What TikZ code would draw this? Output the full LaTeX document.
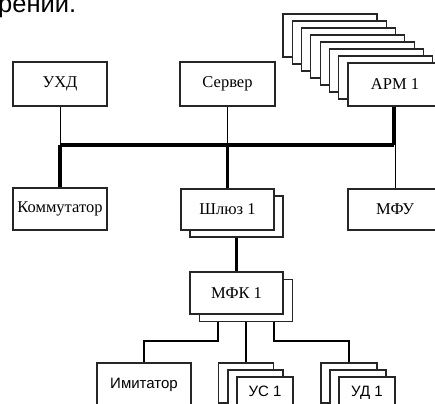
\documentclass[tikz,border=0pt]{standalone}
\usepackage{fontspec}
\setmainfont{Liberation Serif}
\newfontfamily\arialfont{Liberation Sans}
\tikzset{
  blk/.style={draw=black!85, line width=1.2pt, fill=white, inner sep=0pt,
    font=\fontsize{16.5}{18}\selectfont},
  sblk/.style={blk, font=\arialfont\fontsize{15}{17}\selectfont},
  thinln/.style={line width=0.9pt},
  midln/.style={line width=2.4pt},
  busln/.style={line width=3.2pt},
  fatln/.style={line width=4.2pt},
}
\begin{document}
\begin{tikzpicture}[x=1pt, y=-1pt]
    \useasboundingbox (0,0) rectangle (435,403);
    \clip (0,0) rectangle (435,403);

    % обрывок подписи сверху
    \node[anchor=base west, inner sep=0pt, font=\arialfont\fontsize{25.5}{28}\selectfont]
        (caption) at (-2,13) {рений.};

    % верхний ряд
    \node[blk, minimum width=94, minimum height=44] (uxd) at (60,84) {УХД};
    \node[blk, minimum width=95, minimum height=44] (server) at (227.5,84) {Сервер};
    \foreach \k in {7,...,1}
        \node[blk, minimum width=94, minimum height=43] (apm\k) at ({395-\k*9.3},{84.5-\k*7}) {};
    \node[blk, minimum width=94, minimum height=43] (apm) at (395,84.5) {АРМ 1};

    % шина
    \coordinate (busL) at (60,145);
    \coordinate (busR) at (394,145);
    \draw[busln] (busL) -- (busR);
    \draw[thinln] (uxd.south) -- (uxd.south |- busL);
    \draw[thinln] (server.south) -- (server.south |- busL);
    \draw[fatln] (apm.south -| busR) -- (busR);

    % второй ряд
    \node[blk, minimum width=94, minimum height=42] (komm) at (60,209) {Коммутатор};
    \node[blk, minimum width=93, minimum height=41] (shluzb) at (236.5,216.5) {};
    \node[blk, minimum width=93, minimum height=41] (shluz) at (227.5,209.5) {Шлюз 1};
    \node[blk, minimum width=94, minimum height=41] (mfu) at (395,209.5) {МФУ};
    \draw[fatln] (busL) -- (komm.north -| busL);
    \draw[midln] (shluz.north |- busL) -- (shluz.north);
    \draw[thinln] (mfu.north |- busR) -- (mfu.north);

    % МФК
    \node[blk, minimum width=93, minimum height=42] (mfkb) at (246,300.5) {};
    \node[blk, minimum width=93, minimum height=42] (mfk) at (236.5,293) {МФК 1};
    \draw[midln] (shluzb.south) -- (mfk.north -| shluzb.south);

    % нижний ряд
    \node[sblk, minimum width=94, minimum height=42, text height=25.5pt, text depth=16.5pt]
        (imit) at (144,384) {Имитатор};
    \foreach \k [count=\i] in {2,1} {
        \node[sblk, minimum width=55, minimum height=40] (us\i) at ({265-\k*9.5},{397-\k*7}) {};
        \node[sblk, minimum width=56, minimum height=40] (ud\i) at ({367-\k*9},{397-\k*7}) {};
    }
    \node[sblk, minimum width=56, minimum height=40, text height=19.5pt, text depth=20.5pt]
        (us) at (265,397) {УС 1};
    \node[sblk, minimum width=56, minimum height=40, text height=19.5pt, text depth=20.5pt]
        (ud) at (367,397) {УД 1};

    \coordinate (fork) at (0,341);
    \draw[midln] (mfkb.south -| 218,0) |- (imit.north |- fork) -- (imit.north);
    \draw[midln] (mfkb.south -| us1.north) -- (us1.north);
    \draw[midln] (mfkb.south -| 274,0) |- (ud1.north |- fork) -- (ud1.north);
\end{tikzpicture}
\end{document}
